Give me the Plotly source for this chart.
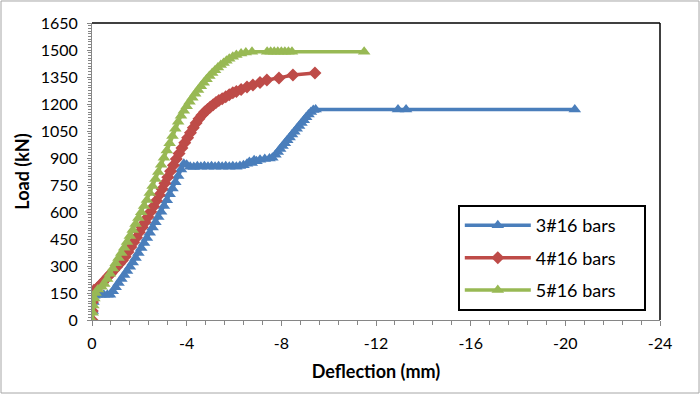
import plotly.graph_objects as go

# ---- data ----
series_names = ["3#16 bars", "4#16 bars", "5#16 bars"]

x_3bars = [0, -0.03, -0.06, -0.1, -0.2, -0.35, -0.5, -0.65, -0.76,
           -0.88, -1.0, -1.12, -1.24, -1.36, -1.48, -1.6, -1.72, -1.84, -1.96,
           -2.08, -2.2, -2.32, -2.44, -2.56, -2.68, -2.8, -2.92, -3.04, -3.16,
           -3.28, -3.4, -3.52, -3.64, -3.76, -3.88, -4.0,
           -4.15, -4.3, -4.45, -4.6, -4.75, -4.9, -5.05, -5.2, -5.35, -5.5,
           -5.65, -5.8, -5.95, -6.1, -6.25, -6.4, -6.55, -6.65, -6.75, -6.85,
           -6.95, -7.1, -7.3, -7.5, -7.62,
           -7.75, -7.85, -7.95, -8.05, -8.15, -8.25, -8.35, -8.45, -8.55, -8.65,
           -8.75, -8.85, -8.95, -9.05, -9.15, -9.25, -9.35, -9.45,
           -12.93, -13.27, -20.4]
y_3bars = [0, 50, 100, 135, 140, 140, 140, 140, 140,
           160, 182, 205, 228, 250, 272, 296, 320, 345, 372,
           400, 428, 456, 485, 514, 543, 572, 602, 634, 665,
           698, 731, 765, 800, 836, 868, 862,
           852, 850, 854, 851, 854, 851, 854, 852, 854, 851,
           854, 852, 854, 852, 856, 860, 868, 878, 872, 888,
           882, 890, 894, 897, 902,
           918, 934, 950, 966, 982, 998, 1014, 1030, 1046, 1062,
           1078, 1094, 1110, 1126, 1142, 1156, 1166, 1170,
           1170, 1170, 1170]

x_4bars = [0, -0.01, -0.02, -0.04, -0.08, -0.2, -0.32, -0.44, -0.56, -0.68,
           -0.8, -0.92, -1.04, -1.16, -1.28, -1.4, -1.52, -1.64, -1.76, -1.88,
           -2.0, -2.12, -2.24, -2.36, -2.48, -2.6, -2.72, -2.84, -2.96, -3.08,
           -3.2, -3.32, -3.44, -3.56, -3.68, -3.8, -3.92, -4.04, -4.16, -4.28,
           -4.4, -4.52, -4.64, -4.76, -4.88, -5.0, -5.12, -5.24, -5.36, -5.5,
           -5.65, -5.8, -5.95, -6.1, -6.3, -6.55, -6.8, -7.1, -7.39, -7.9,
           -8.49, -9.42]
y_4bars = [0, 50, 100, 150, 165, 175, 190, 207, 224, 241,
           258, 276, 294, 313, 330, 352, 378, 405, 432, 459,
           487, 515, 543, 572, 601, 631, 663, 695, 728, 760,
           793, 826, 860, 895, 925, 955, 985, 1013, 1040, 1068,
           1095, 1118, 1138, 1155, 1170, 1184, 1196, 1208, 1219, 1229,
           1240, 1252, 1262, 1270, 1280, 1294, 1305, 1320, 1333, 1345,
           1361, 1372]

x_5bars = [0, -0.03, -0.06, -0.1, -0.15, -0.25, -0.4, -0.52, -0.64, -0.76,
           -0.88, -1.0, -1.12, -1.24, -1.36, -1.48, -1.6, -1.72, -1.84, -1.96,
           -2.08, -2.2, -2.32, -2.44, -2.56, -2.68, -2.8, -2.92, -3.04, -3.16,
           -3.28, -3.4, -3.52, -3.64, -3.76, -3.88, -4.0, -4.12, -4.24, -4.36,
           -4.48, -4.6, -4.72, -4.84, -4.96, -5.08, -5.2, -5.32, -5.44, -5.56,
           -5.68, -5.8, -5.95, -6.1, -6.3, -6.5, -6.76, -7.4, -7.55, -7.7,
           -7.85, -8.0, -8.15, -8.3, -8.45, -11.5]
y_5bars = [0, 40, 80, 120, 150, 170, 185, 200, 228, 257,
           286, 315, 344, 372, 402, 434, 467, 500, 533, 566,
           599, 633, 667, 705, 744, 783, 822, 862, 902, 942,
           982, 1022, 1062, 1102, 1135, 1162, 1188, 1212, 1235, 1257,
           1278, 1298, 1318, 1337, 1355, 1372, 1388, 1403, 1416, 1428,
           1440, 1452, 1463, 1472, 1480, 1486, 1490, 1490, 1490, 1490,
           1490, 1490, 1490, 1490, 1490, 1490]

x_tick_vals = [0, -4, -8, -12, -16, -20, -24]
x_tick_text = ["0", "-4", "-8", "-12", "-16", "-20", "-24"]
y_tick_vals = [0, 150, 300, 450, 600, 750, 900, 1050, 1200, 1350, 1500, 1650]

colors = ["#4A7EBB", "#BE4B48", "#98B954"]
symbols = ["triangle-up", "diamond", "triangle-up"]
marker_sizes = [11, 10, 11]

FONT = "Lato, 'Open Sans', sans-serif"
NBSP = "\u00a0"

fig = go.Figure()
for name, xs, ys, c, s, ms in zip(series_names,
                                  [x_3bars, x_4bars, x_5bars],
                                  [y_3bars, y_4bars, y_5bars],
                                  colors, symbols, marker_sizes):
    fig.add_trace(go.Scatter(
        x=xs, y=ys, name=name + NBSP * 5, mode="lines+markers",
        line=dict(color=c, width=3.5),
        marker=dict(symbol=s, size=ms, color=c, line=dict(width=0)),
        legendgroup=name,
    ))

axis_gray = "#868686"
fig.update_layout(
    width=700, height=394,
    margin=dict(l=92, r=40, t=23, b=74),
    paper_bgcolor="white", plot_bgcolor="white",
    font=dict(family=FONT, size=16, color="black"),
    showlegend=True,
    legend=dict(
        x=0.644, y=0.387, xanchor="left", yanchor="top",
        bordercolor="black", borderwidth=2, bgcolor="white",
        font=dict(family=FONT, size=18, color="black"),
        itemwidth=66, tracegroupgap=6,
    ),
    xaxis=dict(
        range=[0, -24], tickmode="array", tickvals=x_tick_vals, ticktext=x_tick_text,
        showgrid=False, zeroline=False, showline=True, linecolor=axis_gray, linewidth=1,
        ticks="outside", ticklen=5, tickcolor=axis_gray, ticklabelstandoff=4,
        minor=dict(dtick=0.8, tick0=0, ticks="outside", ticklen=4, tickcolor=axis_gray, showgrid=False),
        tickfont=dict(family=FONT, size=16, color="black"),
        title=dict(text="<b>Deflection (mm)</b>", font=dict(family=FONT, size=18, color="black"), standoff=14),
        automargin=False,
    ),
    yaxis=dict(
        range=[0, 1650], tickmode="array", tickvals=y_tick_vals,
        showgrid=False, zeroline=False, showline=True, linecolor=axis_gray, linewidth=1,
        ticks="outside", ticklen=4, tickcolor=axis_gray, ticklabelstandoff=6,
        minor=dict(dtick=15, tick0=0, ticks="outside", ticklen=3, tickcolor=axis_gray, showgrid=False),
        tickfont=dict(family=FONT, size=16, color="black"),
        title=dict(text="<b>Load (kN)</b>", font=dict(family=FONT, size=18, color="black"), standoff=6),
        automargin=False,
    ),
    shapes=[
        dict(type="line", xref="paper", yref="paper", x0=0, x1=1, y0=1, y1=1,
             line=dict(color="black", width=1.5)),
        dict(type="line", xref="paper", yref="paper", x0=1, x1=1, y0=0, y1=1,
             line=dict(color="black", width=1.5)),
        dict(type="rect", xref="paper", yref="paper",
             x0=-0.1602, x1=1.0687, y0=-0.2458, y1=1.0741,
             line=dict(color="#A6A6A6", width=1), layer="below"),
    ],
)

fig.write_html("out.html", config={"displayModeBar": False},
               post_script="document.body.style.margin='0';document.body.style.padding='0';")
